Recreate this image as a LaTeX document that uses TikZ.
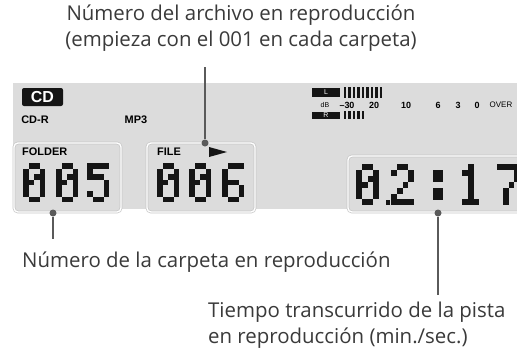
\documentclass[tikz,border=0pt]{standalone}
\usepackage{fontspec}
\setmainfont{Open Sans}
\newfontfamily\lcdfont{Liberation Sans}
\definecolor{lcdgray}{HTML}{DCDCDC}
\definecolor{lcdink}{HTML}{151515}
\definecolor{leadgray}{HTML}{5A5A5A}
\definecolor{textgray}{HTML}{3A3A3A}

% dot matrix digits, 4x7 cells: col/row
\newcommand{\digzero}{1/0,2/0,0/1,3/1,0/2,2/2,3/2,0/3,1/3,3/3,0/4,3/4,0/5,3/5,1/6,2/6}
\newcommand{\digone}{1/0,0/1,1/1,1/2,1/3,1/4,1/5,0/6,1/6,2/6}
\newcommand{\digtwo}{1/0,2/0,0/1,3/1,3/2,2/3,1/4,0/5,0/6,1/6,2/6,3/6}
\newcommand{\digfive}{0/0,1/0,2/0,3/0,0/1,0/2,1/2,2/2,3/3,3/4,0/5,3/5,1/6,2/6}
\newcommand{\digsix}{1/0,2/0,3/0,0/1,0/2,0/3,1/3,2/3,0/4,3/4,0/5,3/5,1/6,2/6}
\newcommand{\digseven}{0/0,1/0,2/0,3/0,3/1,3/2,2/3,1/4,1/5,1/6}
% #1,#2 top left, #3 cell width, #4 cell height, #5 pattern
\newcommand{\lcddigit}[5]{%
  \foreach \c/\r in #5 {\fill[lcdink] ({#1+\c*#3},{#2+\r*#4}) rectangle ++(#3,#4);}}

\begin{document}
\begin{tikzpicture}[x=1bp,y=-1bp,
  callout/.style={text=textgray, inner sep=0pt, font=\fontsize{20.5}{26}\selectfont},
  leader/.style={draw=leadgray, line width=2bp},
  tap/.style={circle, fill=leadgray, inner sep=0pt, minimum size=7bp},
  window/.style={fill=lcdgray, draw=gray!45, double=white, double distance=1.4bp, line width=0.7bp, rounded corners=4bp},
  lcdlabel/.style={inner sep=0pt, font=\lcdfont\bfseries\fontsize{11}{12}\selectfont},
  dbmark/.style={inner sep=0pt, font=\lcdfont\bfseries\fontsize{9}{10}\selectfont}]
\clip (0,0) rectangle (517,351);
% panel
\fill[lcdgray] (13,83) rectangle (530,209);
\draw[window] (14,143) rectangle (121,212);
\draw[window] (147,143) rectangle (255,212);
\draw[window] (348,156) rectangle (540,212);
% top row of the display
\node[fill=lcdink, rounded corners=2bp, minimum width=41bp, minimum height=18bp, inner sep=0pt,
  text=white, font=\lcdfont\bfseries\fontsize{16}{16}\selectfont] (cd) at (42.5,97) {CD};
\node[lcdlabel] (cdr) at (35,120) {CD-R};
\node[lcdlabel] (mp3) at (136,120) {MP3};
\node[lcdlabel, anchor=west] (folder) at (22,152) {FOLDER};
\node[lcdlabel, anchor=west] (file) at (157,152) {FILE};
\fill[lcdink] (209,147) -- (227,152) -- (209,157) -- cycle;
% level meter
\node[fill=lcdink, minimum width=28bp, minimum height=9bp, inner sep=0pt, text=white,
  font=\lcdfont\fontsize{7}{7}\selectfont] (lch) at (326,92.5) {L};
\node[fill=lcdink, minimum width=28bp, minimum height=7bp, inner sep=0pt, text=white,
  font=\lcdfont\fontsize{7}{7}\selectfont] (rch) at (326,115) {R};
\foreach \i in {0,...,8}{\fill[lcdink] ({343.5+\i*4.5},87) rectangle ++(2.6,11);}
\foreach \i in {0,...,4}{\fill[lcdink] ({343.5+\i*4.5},111) rectangle ++(2.6,8);}
\node[dbmark, font=\lcdfont\fontsize{7}{7}\selectfont] (db) at (325,105.5) {dB};
\node[dbmark] (m30) at (347,105) {–30};
\node[dbmark] (m20) at (374,105) {20};
\node[dbmark] (m10) at (406,105) {10};
\node[dbmark] (m6) at (438,105) {6};
\node[dbmark] (m3) at (458,105) {3};
\node[dbmark] (m0) at (477,105) {0};
\node[dbmark, font=\lcdfont\fontsize{8}{8}\selectfont] (over) at (501,105) {OVER};
% digits
\lcddigit{23}{163}{5.5}{5.6}{\digzero}
\lcddigit{56}{163}{5.5}{5.6}{\digzero}
\lcddigit{87}{163}{5.5}{5.6}{\digfive}
\lcddigit{157}{163}{5.5}{5.6}{\digzero}
\lcddigit{189}{163}{5.5}{5.6}{\digzero}
\lcddigit{222}{163}{5.5}{5.6}{\digsix}
\lcddigit{356}{164}{5.8}{5.9}{\digzero}
\lcddigit{391}{164}{5.8}{5.9}{\digtwo}
\lcddigit{462}{164}{5.8}{5.9}{\digone}
\lcddigit{497}{164}{5.8}{5.9}{\digseven}
\fill[lcdink] (385.5,200) rectangle ++(4.2,5);
\foreach \yy in {170,188}{
  \foreach \dx/\dy in {0/0,1/0,0/1,1/1}{\fill[lcdink] ({433+\dx*5.2},{\yy+\dy*6.2}) rectangle ++(4.6,5.6);}}
% callouts
\node[callout, align=center, anchor=north] (filetxt) at (241,5)
  {Número del archivo en reproducción\\(empieza con el 001 en cada carpeta)};
\node[callout, anchor=base west] (foldtxt) at (22,267) {Número de la carpeta en reproducción};
\node[callout, align=left, anchor=north west] (timetxt) at (208,302)
  {Tiempo transcurrido de la pista\\en reproducción (min./sec.)};
\node[tap] (filetap) at (205,143) {};
\node[tap] (foldtap) at (53,213) {};
\node[tap] (timetap) at (438,213) {};
\draw[leader, shorten >=15bp] (filetap) -- (filetap |- filetxt.south);
\draw[leader, shorten >=12bp] (foldtap) -- (foldtap |- foldtxt.north);
\draw[leader, shorten >=7bp] (timetap) -- (timetap |- timetxt.north);
\end{tikzpicture}
\end{document}
